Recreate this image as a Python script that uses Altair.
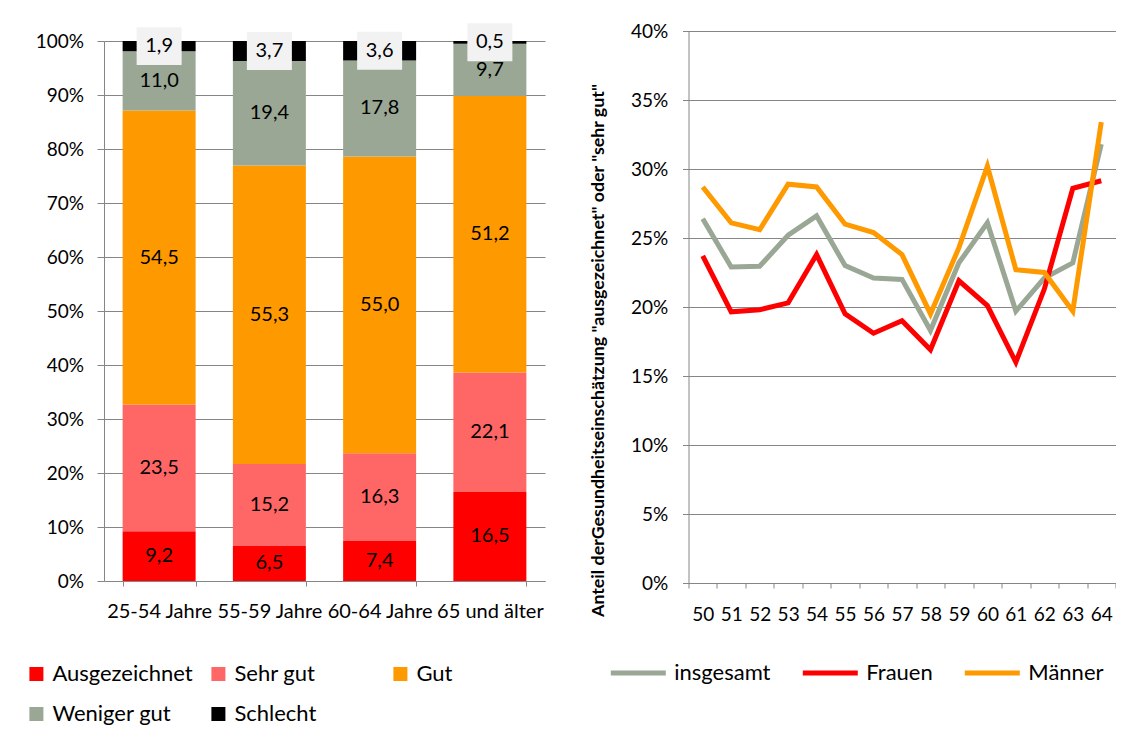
import altair as alt
import pandas as pd

FONT = "Lato"
GRID = "#868686"

# ---- left chart data ----
groups = ["25-54 Jahre", "55-59 Jahre", "60-64 Jahre", "65 und älter"]
categories = ["Ausgezeichnet", "Sehr gut", "Gut", "Weniger gut", "Schlecht"]
ausgezeichnet = [9.2, 6.5, 7.4, 16.5]
sehr_gut = [23.5, 15.2, 16.3, 22.1]
gut = [54.5, 55.3, 55.0, 51.2]
weniger_gut = [11.0, 19.4, 17.8, 9.7]
schlecht = [1.9, 3.7, 3.6, 0.5]
bar_colors = ["#FF0000", "#FF6666", "#FF9900", "#99A794", "#000000"]

# ---- right chart data ----
ages = [50, 51, 52, 53, 54, 55, 56, 57, 58, 59, 60, 61, 62, 63, 64]
insgesamt = [26.4, 22.9, 22.95, 25.2, 26.6, 23.0, 22.1, 22.0, 18.3, 23.2, 26.1, 19.7, 22.1, 23.2, 31.8]
frauen = [23.7, 19.65, 19.8, 20.3, 23.8, 19.5, 18.1, 19.0, 16.9, 21.9, 20.1, 16.0, 21.3, 28.6, 29.15]
maenner = [28.7, 26.1, 25.6, 28.9, 28.7, 26.0, 25.4, 23.8, 19.5, 24.3, 30.2, 22.7, 22.5, 19.7, 33.4]
line_names = ["insgesamt", "Frauen", "Männer"]
line_colors = ["#9AA795", "#FF0000", "#FF9900"]

rows = []
for ci, (cat, vals) in enumerate(zip(categories, [ausgezeichnet, sehr_gut, gut, weniger_gut, schlecht])):
    for g, v in zip(groups, vals):
        rows.append({"group": g, "cat": cat, "order": ci, "value": v,
                     "label": f"{v:.1f}".replace(".", ",")})
df_bar = pd.DataFrame(rows)

lrows = []
for name, vals in zip(line_names, [insgesamt, frauen, maenner]):
    for a, v in zip(ages, vals):
        lrows.append({"age": a, "series": name, "value": v / 100})
df_line = pd.DataFrame(lrows)

# ---- left chart ----
LH = 550
base = (
    alt.Chart(df_bar)
    .transform_joinaggregate(total="sum(value)", groupby=["group"])
    .transform_stack(stack="value", as_=["v0", "v1"], groupby=["group"],
                     sort=[alt.SortField("order", order="ascending")])
    .transform_calculate(y0="datum.v0/datum.total", y1="datum.v1/datum.total",
                         ymid="(datum.v0+datum.v1)/2/datum.total")
)

x_left = alt.X("group:N", sort=groups,
               scale=alt.Scale(paddingInner=0.338, paddingOuter=0.169),
               axis=alt.Axis(title=None, labelAngle=0, tickBand="extent", domainColor=GRID,
                             tickColor=GRID, tickSize=5, labelPadding=15, labelFontSize=20,
                             labelColor="black", grid=False, labelLimit=200))
y_axis_left = alt.Axis(title=None, format=".0%", values=[i / 10 for i in range(11)],
                       grid=True, gridColor=GRID, domainColor=GRID, tickColor=GRID,
                       tickSize=7, labelPadding=13.5, labelFontSize=19, labelColor="black")
yscale_left = alt.Scale(domain=[0, 1], range=[LH, 10])

bars = base.mark_bar().encode(
    x=x_left,
    y=alt.Y("y0:Q", scale=yscale_left, axis=y_axis_left),
    y2="y1:Q",
    color=alt.Color("cat:N", scale=alt.Scale(domain=categories, range=bar_colors),
                    legend=alt.Legend(title=None, orient="none", legendX=-78.6, legendY=632,
                                      direction="horizontal", columns=3, gridAlign="all",
                                      columnPadding=14, rowPadding=18, symbolType="square",
                                      symbolSize=196, symbolStrokeWidth=0, labelFontSize=22,
                                      labelFont=FONT, labelColor="black", labelOffset=5,
                                      labelLimit=300, padding=0)),
)

texts = base.transform_filter("datum.cat != 'Schlecht'").mark_text(
    fontSize=20, font=FONT, color="black"
).encode(x=x_left, y=alt.Y("ymid:Q", scale=yscale_left, axis=y_axis_left), text="label:N")

boxes = base.transform_filter("datum.cat == 'Schlecht'").mark_point(
    shape="M-1,-0.844L1,-0.844L1,0.844L-1,0.844Z", size=2025, filled=True,
    color="#F2F2F2", opacity=1
).encode(x=x_left, y=alt.Y("ymid:Q", scale=yscale_left, axis=y_axis_left))

box_texts = base.transform_filter("datum.cat == 'Schlecht'").mark_text(
    fontSize=20, font=FONT, color="black"
).encode(x=x_left, y=alt.Y("ymid:Q", scale=yscale_left, axis=y_axis_left), text="label:N")

left = alt.layer(bars, texts, boxes, box_texts).properties(width=441, height=LH)

# ---- right chart ----
right = alt.Chart(df_line).mark_line(strokeWidth=5).encode(
    x=alt.X("age:O", scale=alt.Scale(type="band", paddingInner=0, paddingOuter=0),
            axis=alt.Axis(title=None, labelAngle=0, tickBand="extent", domainColor=GRID,
                          tickColor=GRID, tickSize=5, labelPadding=17, labelFontSize=19,
                          labelColor="black", grid=False)),
    y=alt.Y("value:Q", scale=alt.Scale(domain=[0, 0.4]),
            axis=alt.Axis(format=".0%", values=[i * 0.05 for i in range(9)], grid=True,
                          gridColor=GRID, domainColor=GRID, tickColor=GRID, tickSize=6,
                          labelPadding=14.7, labelFontSize=19, labelColor="black",
                          title='Anteil derGesundheitseinschätzung  "ausgezeichnet" oder "sehr gut"',
                          titleFont=FONT, titleFontSize=17.8, titleFontWeight="bold",
                          titleColor="black", titleX=-81, titleY=319, titleAngle=270,
                          titleAlign="center", titleBaseline="bottom")),
    color=alt.Color("series:N", sort=line_names,
                    scale=alt.Scale(domain=line_names, range=line_colors),
                    legend=alt.Legend(title=None, orient="none", legendX=-80.2, legendY=612,
                                      direction="horizontal", columns=3, columnPadding=21,
                                      symbolType="stroke", symbolSize=3025,
                                      symbolStrokeWidth=5, labelFontSize=22, labelFont=FONT,
                                      labelColor="black", labelOffset=6, labelLimit=300,
                                      padding=0)),
).properties(width=427, height=552)

chart = (
    alt.hconcat(left, right, spacing=43.5)
    .resolve_scale(color="independent")
    .properties(padding={"left": 17, "top": 14, "right": 0, "bottom": 0})
    .configure_view(stroke=None)
    .configure_axis(labelFont=FONT, titleFont=FONT)
    .configure_text(font=FONT)
)

chart.save("out.html", embed_options={"renderer": "svg", "actions": False})
